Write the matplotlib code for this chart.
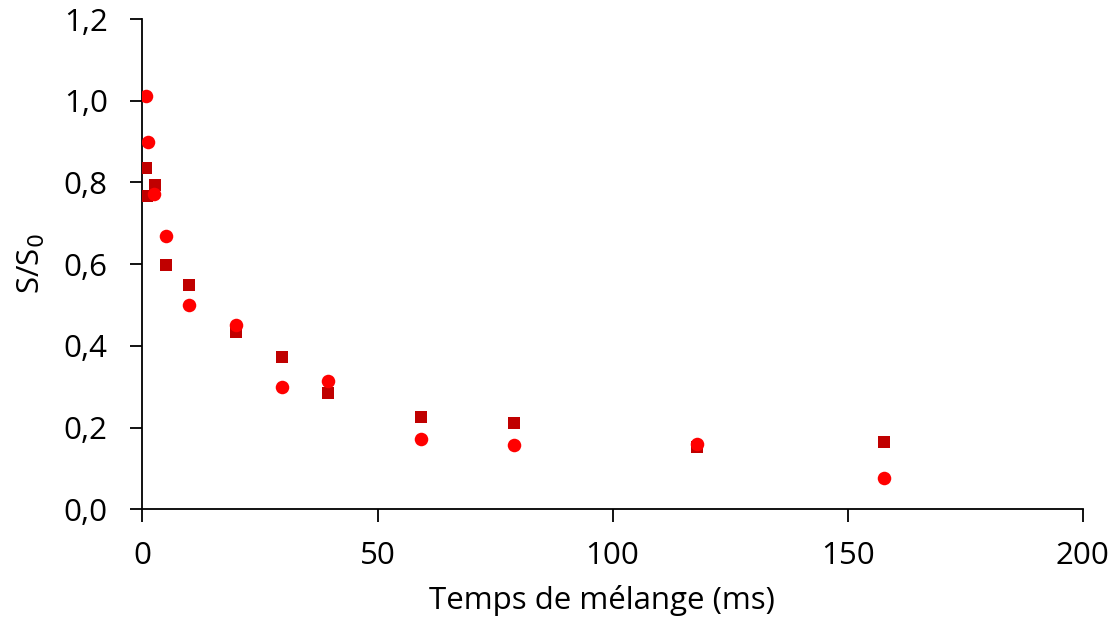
import matplotlib
matplotlib.use("Agg")
import matplotlib.pyplot as plt

# Mixing time (ms) and normalised signal S/S0 for the two series
t_circles = [0.7, 1.2, 2.5, 5.0, 9.9, 19.9, 29.7, 39.5, 59.2, 79.0, 117.9, 157.7]
s_circles = [1.012, 0.900, 0.771, 0.670, 0.499, 0.450, 0.300, 0.313, 0.172, 0.157, 0.159, 0.077]

t_squares = [0.7, 1.0, 2.7, 5.0, 9.9, 19.9, 29.7, 39.5, 59.2, 79.0, 117.9, 157.7]
s_squares = [0.835, 0.767, 0.794, 0.597, 0.550, 0.433, 0.372, 0.284, 0.227, 0.212, 0.152, 0.164]

x_ticks = [0, 50, 100, 150, 200]
y_ticks = [0.0, 0.2, 0.4, 0.6, 0.8, 1.0, 1.2]
y_ticklabels = ["0,0", "0,2", "0,4", "0,6", "0,8", "1,0", "1,2"]

plt.rcParams["font.family"] = ["Open Sans", "DejaVu Sans"]

fig = plt.figure(figsize=(11.19, 6.28), dpi=100)
ax = fig.add_axes([0.1273, 0.189, 0.8403, 0.7807])

ax.scatter(t_squares, s_squares, marker="s", s=80, color="#C00000",
           linewidths=0, zorder=3)
ax.scatter(t_circles, s_circles, marker="o", s=95, color="#FF0000",
           linewidths=0, zorder=4)

ax.set_xlim(0, 200)
ax.set_ylim(0, 1.2)
ax.set_xticks(x_ticks)
ax.set_xticklabels([str(v) for v in x_ticks])
ax.set_yticks(y_ticks)
ax.set_yticklabels(y_ticklabels)

for side in ("top", "right"):
    ax.spines[side].set_visible(False)
for side in ("left", "bottom"):
    ax.spines[side].set_linewidth(1.3)
    ax.spines[side].set_color("#000000")

ax.tick_params(axis="both", direction="out", length=9, width=1.3,
               labelsize=22.5, colors="#000000")
ax.tick_params(axis="y", pad=16)
ax.tick_params(axis="x", pad=14)

ax.set_xlabel("Temps de mélange (ms)", fontsize=22.5)
ax.xaxis.set_label_coords(0.489, -0.155)
ax.set_ylabel("S/S$_0$", fontsize=22.5, labelpad=12)

fig.savefig("out.png", dpi=100)
